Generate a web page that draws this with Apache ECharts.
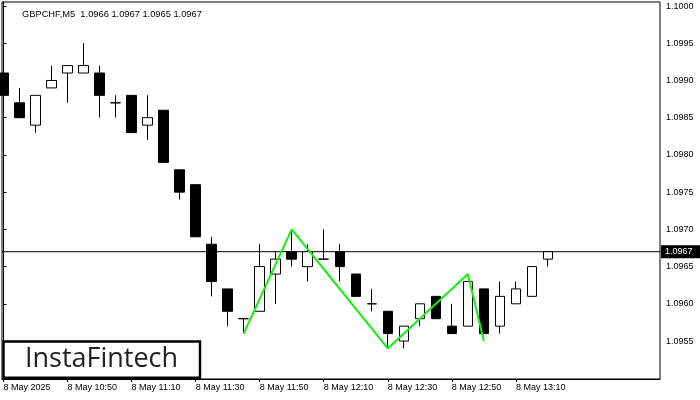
<!DOCTYPE html>
<html>
<head>
<meta charset="utf-8">
<script src="https://cdn.jsdelivr.net/npm/echarts@6/dist/echarts.min.js"></script>
<style>html,body{margin:0;padding:0;background:#fff;}#c{width:700px;height:400px;}</style>
</head>
<body>
<div id="c"></div>
<script>
const times = ['10:30','10:35','10:40','10:45','10:50','10:55','11:00','11:05','11:10','11:15','11:20','11:25','11:30','11:35','11:40','11:45','11:50','11:55','12:00','12:05','12:10','12:15','12:20','12:25','12:30','12:35','12:40','12:45','12:50','12:55','13:00','13:05','13:10','13:15','13:20'];
const open  = [1.0991,1.0987,1.0984,1.0989,1.0991,1.0991,1.0991,1.0987,1.0988,1.0984,1.0986,1.0978,1.0976,1.0968,1.0962,1.0958,1.0959,1.0964,1.0967,1.0965,1.0966,1.0967,1.0964,1.0960,1.0959,1.0955,1.0958,1.0961,1.0957,1.0957,1.0962,1.0957,1.0960,1.0961,1.0966];
const high  = [1.0991,1.0989,1.0988,1.0992,1.0992,1.0995,1.0992,1.0988,1.0988,1.0988,1.0986,1.0978,1.0976,1.0969,1.0962,1.0958,1.0968,1.0967,1.0970,1.0968,1.0970,1.0968,1.0964,1.0962,1.0959,1.0957,1.0960,1.0961,1.0960,1.0963,1.0962,1.0963,1.0963,1.0965,1.0967];
const low   = [1.0986,1.0985,1.0983,1.0989,1.0987,1.0991,1.0985,1.0985,1.0983,1.0982,1.0979,1.0974,1.0969,1.0961,1.0957,1.0956,1.0959,1.0960,1.0965,1.0963,1.0966,1.0963,1.0961,1.0959,1.0954,1.0954,1.0957,1.0958,1.0956,1.0957,1.0956,1.0956,1.0960,1.0961,1.0965];
const close = [1.0988,1.0985,1.0988,1.0990,1.0992,1.0992,1.0988,1.0987,1.0983,1.0985,1.0979,1.0975,1.0969,1.0963,1.0959,1.0958,1.0965,1.0966,1.0966,1.0967,1.0966,1.0965,1.0961,1.0960,1.0956,1.0957,1.0960,1.0958,1.0956,1.0963,1.0956,1.0961,1.0962,1.0965,1.0967];

const patternIdx = [15, 18, 24, 29, 30];
const patternVal = [1.0956, 1.0970, 1.0954, 1.0964, 1.0955];

const xTickIdx = [0, 4, 8, 12, 16, 20, 24, 28, 32];
const xTickLabels = ['8 May 2025','8 May 10:50','8 May 11:10','8 May 11:30','8 May 11:50','8 May 12:10','8 May 12:30','8 May 12:50','8 May 13:10'];
const yTicks = [1.0955,1.0960,1.0965,1.0970,1.0975,1.0980,1.0985,1.0990,1.0995,1.1000];

const symbolName = 'GBPCHF,M5';
const lastBar = [open[34], high[34], low[34], close[34]];
const lastPrice = close[close.length - 1];

const X_MIN = -0.094, X_MAX = 41.0;
const ohlc = times.map((t, i) => [i, open[i], close[i], low[i], high[i]]);
const pattern = patternIdx.map((x, i) => [x, patternVal[i]]);
const priceLine = [[X_MIN, lastPrice], [X_MAX, lastPrice]];

const FONT = 'Liberation Sans';
const chart = echarts.init(document.getElementById('c'), null, {renderer: 'canvas'});
chart.setOption({
  animation: false,
  backgroundColor: '#fff',
  title: {
    text: symbolName + '  ' + lastBar.map(v => v.toFixed(4)).join(' '),
    left: 17, top: 5,
    textStyle: {fontFamily: FONT, fontSize: 9.3, fontWeight: 'normal', color: '#000'}
  },
  grid: {left: 2, top: 2, right: 40, bottom: 21, show: true, borderColor: '#000', borderWidth: 1, backgroundColor: '#fff'},
  xAxis: {
    type: 'value', min: X_MIN, max: X_MAX,
    axisLine: {show: true, lineStyle: {color: '#000', width: 1}},
    axisTick: {show: true, length: 3, customValues: xTickIdx, lineStyle: {color: '#000'}},
    axisLabel: {
      customValues: xTickIdx, align: 'left', margin: 4,
      fontFamily: FONT, fontSize: 9, color: '#000',
      formatter: v => { const k = xTickIdx.indexOf(v); return k >= 0 ? xTickLabels[k] : ''; }
    },
    splitLine: {show: false}
  },
  yAxis: {
    type: 'value', position: 'right', min: 1.09499, max: 1.100054, scale: true,
    axisLine: {show: true, lineStyle: {color: '#000', width: 1}},
    axisTick: {show: true, inside: false, length: 3, customValues: yTicks, lineStyle: {color: '#000'}},
    axisLabel: {
      customValues: yTicks, margin: 6, align: 'left',
      fontFamily: FONT, fontSize: 9, color: '#000',
      formatter: v => v.toFixed(4)
    },
    splitLine: {show: false}
  },
  graphic: [
    {type: 'rect', shape: {x: 3.5, y: 341.5, width: 196.5, height: 36.3},
     style: {fill: '#fff', stroke: '#000', lineWidth: 2.4}, z: 100},
    {type: 'text', x: 101.5, y: 359.5,
     style: {text: 'InstaFintech', fill: '#222', font: '500 27px "Open Sans"', textAlign: 'center', textVerticalAlign: 'middle'}, z: 101}
  ],
  series: [
    {
      type: 'line',
      data: priceLine,
      symbol: 'none',
      silent: true,
      lineStyle: {color: '#000', width: 1},
      z: 1,
      endLabel: {
        show: true, distance: 1,
        formatter: () => lastPrice.toFixed(4),
        backgroundColor: '#000', color: '#fff', fontFamily: FONT, fontSize: 9,
        padding: [2, 8, 2, 4]
      }
    },
    {
      type: 'candlestick',
      clip: false,
      z: 2,
      dimensions: ['idx', 'open', 'close', 'lowest', 'highest'],
      encode: {x: 'idx', y: ['open', 'close', 'lowest', 'highest']},
      data: ohlc,
      barWidth: 10,
      itemStyle: {color: '#fff', color0: '#000', borderColor: '#000', borderColor0: '#000', borderColorDoji: '#000', borderWidth: 1}
    },
    {
      type: 'line',
      data: pattern,
      symbol: 'none',
      lineStyle: {color: '#11ee11', width: 2},
      z: 5
    }
  ]
});
</script>
</body>
</html>
